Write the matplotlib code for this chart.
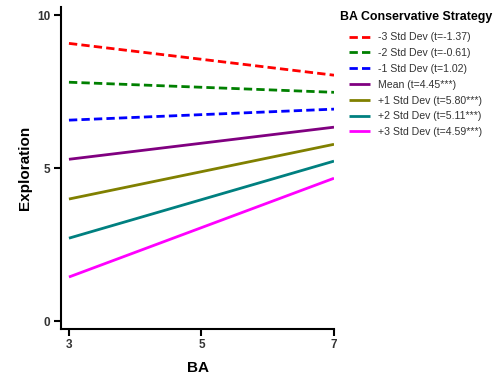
import numpy as np
import matplotlib.pyplot as plt

plt.rcParams['font.family'] = ['Liberation Sans', 'DejaVu Sans']

# simple slopes of Exploration on BA at levels of conservative strategy
ba = [3, 7]
labels = ['-3 Std Dev (t=-1.37)', '-2 Std Dev (t=-0.61)', '-1 Std Dev (t=1.02)',
          'Mean (t=4.45***)', '+1 Std Dev (t=5.80***)', '+2 Std Dev (t=5.11***)',
          '+3 Std Dev (t=4.59***)']
at_low = [9.08, 7.81, 6.57, 5.29, 3.99, 2.71, 1.44]
at_high = [8.04, 7.48, 6.93, 6.34, 5.78, 5.23, 4.67]
colors = ['#ff0000', '#008000', '#0000ff', '#800080', '#808000', '#008080', '#ff00ff']
dashed = [True, True, True, False, False, False, False]

fig = plt.figure(figsize=(4.99, 3.80), dpi=100)
ax = fig.add_axes([61/499, 51/380, 273/499, 322/380])

for i in range(len(labels)):
    ls = (0, (3, 1.5)) if dashed[i] else '-'
    ax.plot(ba, [at_low[i], at_high[i]], color=colors[i], lw=2, ls=ls,
            label=labels[i], solid_capstyle='butt', dash_capstyle='butt')

ax.set_xlim(2.88, 7.0)
ax.set_ylim(-0.26, 10.27)
ax.set_xticks([3, 5, 7])
ax.set_yticks([0, 5, 10])
ax.spines['top'].set_visible(False)
ax.spines['right'].set_visible(False)
for s in ['left', 'bottom']:
    ax.spines[s].set_linewidth(1.5)
ax.tick_params(length=5, width=1.5, labelsize=8.5, colors='black', pad=2.5)
for t in ax.get_xticklabels() + ax.get_yticklabels():
    t.set_fontweight('bold')
    t.set_color('#333333')
ax.set_xlabel('BA', fontsize=11, fontweight='bold', labelpad=7)
ax.set_ylabel('Exploration', fontsize=11, fontweight='bold', labelpad=4)

leg = fig.legend(loc='upper left', bbox_to_anchor=(329/499, 1.0), frameon=False,
                 fontsize=7.6, title='BA Conservative Strategy',
                 title_fontproperties={'weight': 'bold', 'size': 8.9},
                 handlelength=2.0, labelspacing=0.55, handletextpad=0.7,
                 borderpad=0.5, alignment='center')
leg._legend_box.sep = 7
for t in leg.get_texts():
    t.set_color('#333333')

fig.savefig('out.png', dpi=100)
